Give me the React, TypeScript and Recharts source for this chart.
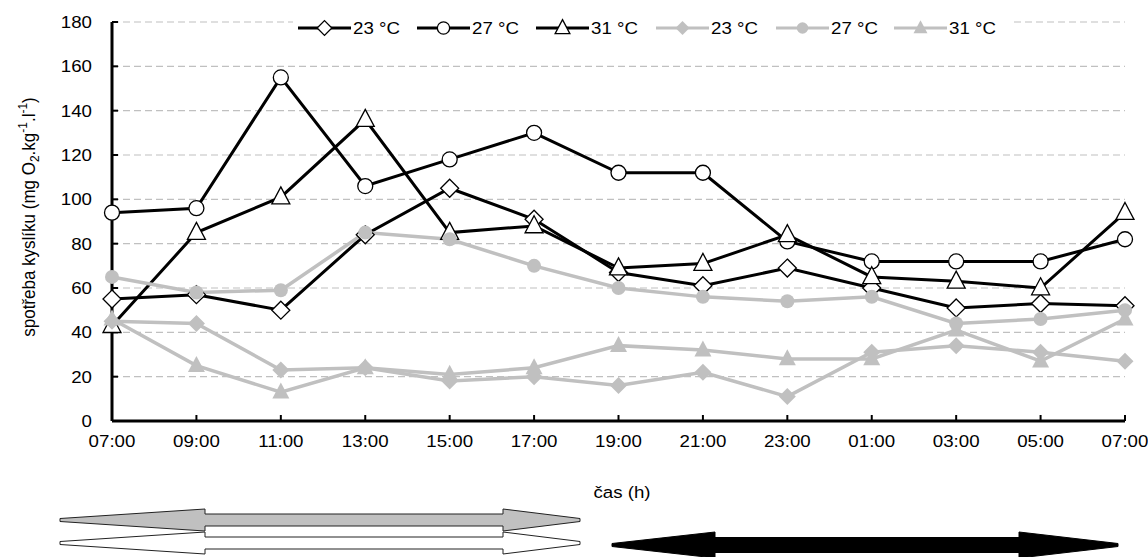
import React from 'react';
import { LineChart, Line, XAxis, YAxis, CartesianGrid, Legend } from 'recharts';

const times = ['07:00', '09:00', '11:00', '13:00', '15:00', '17:00', '19:00', '21:00', '23:00', '01:00', '03:00', '05:00', '07:00'];
const black23 = [55, 57, 50, 84, 105, 91, 67, 61, 69, 60, 51, 53, 52];
const black27 = [94, 96, 155, 106, 118, 130, 112, 112, 81, 72, 72, 72, 82];
const black31 = [43, 85, 101, 136, 85, 88, 69, 71, 84, 65, 63, 60, 94];
const grey23 = [45, 44, 23, 24, 18, 20, 16, 22, 11, 31, 34, 31, 27];
const grey27 = [65, 58, 59, 85, 82, 70, 60, 56, 54, 56, 44, 46, 50];
const grey31 = [46, 25, 13, 24, 21, 24, 34, 32, 28, 28, 41, 27, 46];
const yTicks = [0, 20, 40, 60, 80, 100, 120, 140, 160, 180];
const legendLabels = ['23 °C', '27 °C', '31 °C', '23 °C', '27 °C', '31 °C'];
const yTitle = 'spotřeba kyslíku (mg O';
const xTitle = 'čas (h)';

const FONT = '"Liberation Sans", Arial, sans-serif';
const SX = 1.1;
const GREY = '#C0C0C0';
const FS = 17;

type Shape = 'diamond' | 'circle' | 'triangle';
interface SeriesDef { key: string; values: number[]; label: string; shape: Shape; filled: boolean; }

const seriesDefs: SeriesDef[] = [
  { key: 'b23', values: black23, label: legendLabels[0], shape: 'diamond', filled: false },
  { key: 'b27', values: black27, label: legendLabels[1], shape: 'circle', filled: false },
  { key: 'b31', values: black31, label: legendLabels[2], shape: 'triangle', filled: false },
  { key: 'g23', values: grey23, label: legendLabels[3], shape: 'diamond', filled: true },
  { key: 'g27', values: grey27, label: legendLabels[4], shape: 'circle', filled: true },
  { key: 'g31', values: grey31, label: legendLabels[5], shape: 'triangle', filled: true },
];

const data = times.map((t, i) => {
  const row: Record<string, any> = { time: t };
  seriesDefs.forEach((s) => { row[s.key] = s.values[i]; });
  return row;
});

function markerEl(shape: Shape, filled: boolean, cx: number, cy: number, scale: number, key?: string) {
  const fill = filled ? GREY : '#fff';
  const stroke = filled ? 'none' : '#000';
  const sw = filled ? 0 : 1.3;
  if (shape === 'circle') {
    const r = (filled ? 7 : 7.5) * scale;
    return <circle key={key} cx={cx} cy={cy} r={r} fill={fill} stroke={stroke} strokeWidth={sw} />;
  }
  if (shape === 'diamond') {
    const s = (filled ? 8.5 : 9) * scale;
    return <polygon key={key} points={`${cx},${cy - s} ${cx + s},${cy} ${cx},${cy + s} ${cx - s},${cy}`} fill={fill} stroke={stroke} strokeWidth={sw} />;
  }
  const w = (filled ? 17 : 18) * scale;
  const h = (filled ? 16 : 17) * scale;
  return <polygon key={key} points={`${cx},${cy - h * 0.6} ${cx + w / 2},${cy + h * 0.4} ${cx - w / 2},${cy + h * 0.4}`} fill={fill} stroke={stroke} strokeWidth={sw} />;
}

function SText({ x, y, anchor = 'middle', children }: { x: number; y: number; anchor?: string; children: any }) {
  return (
    <text transform={`translate(${x},${y}) scale(${SX},1)`} textAnchor={anchor as any} fontSize={FS} fontFamily={FONT} fill="#000">
      {children}
    </text>
  );
}

const XTick = (props: any) => {
  const { x, y, payload } = props;
  return <SText x={x} y={y + 32}>{payload.value}</SText>;
};

const YTick = (props: any) => {
  const { x, y, payload } = props;
  return <SText x={x} y={y + 6} anchor="end">{payload.value}</SText>;
};

const XLabel = () => <SText x={622} y={498}>{xTitle}</SText>;

const YLabel = () => (
  <text transform={`translate(35,217) scale(${SX},1) rotate(-90)`} textAnchor="middle" fontSize={FS} fontFamily={FONT} fill="#000">
    {yTitle}
    <tspan dy={4} fontSize={12}>2</tspan>
    <tspan dy={-4}>.kg</tspan>
    <tspan dy={-7} fontSize={12}>-1</tspan>
    <tspan dy={7}>.l</tspan>
    <tspan dy={-7} fontSize={12}>-1</tspan>
    <tspan dy={7}>)</tspan>
  </text>
);

const legendStarts = [298, 417, 536, 656, 776, 894];

const LegendContent = () => (
  <svg width={1148} height={60} style={{ display: 'block' }}>
    <rect x={293} y={14} width={720} height={28} fill="#fff" />
    {seriesDefs.map((s, i) => {
      const x0 = legendStarts[i];
      const cy = 28;
      return (
        <g key={s.key}>
          <line x1={x0} x2={x0 + 53} y1={cy} y2={cy} stroke={s.filled ? GREY : '#000'} strokeWidth={3} />
          {markerEl(s.shape, s.filled, x0 + 26.5, cy, 0.82)}
          <SText x={x0 + 55} y={cy + 6} anchor="start">{s.label}</SText>
        </g>
      );
    })}
  </svg>
);

function arrowPoints(x1: number, x2: number, s1: number, s2: number, cy: number, head: number, shaft: number, tip: number) {
  return [
    [x1, cy - tip], [s1, cy - head], [s1, cy - shaft], [s2, cy - shaft], [s2, cy - head], [x2, cy - tip],
    [x2, cy + tip], [s2, cy + head], [s2, cy + shaft], [s1, cy + shaft], [s1, cy + head], [x1, cy + tip],
  ].map((p) => p.join(',')).join(' ');
}

export default function App() {
  return (
    <div style={{ position: 'absolute', left: 0, top: 0, width: 1148, height: 557, background: '#fff', overflow: 'hidden' }}>
      <LineChart width={1148} height={557} data={data} margin={{ top: 22, right: 23, left: 0, bottom: 96 }}>
        <CartesianGrid vertical={false} stroke={GREY} strokeDasharray="7 4" strokeWidth={1.2} />
        <XAxis
          dataKey="time"
          interval={0}
          height={40}
          tickSize={-6}
          tickMargin={0}
          tick={<XTick />}
          axisLine={{ stroke: '#000', strokeWidth: 3 }}
          tickLine={{ stroke: '#000', strokeWidth: 2 }}
          label={<XLabel />}
        />
        <YAxis
          width={112}
          domain={[0, 180]}
          ticks={yTicks}
          interval={0}
          tickSize={-6}
          tickMargin={26}
          tick={<YTick />}
          axisLine={{ stroke: '#000', strokeWidth: 3 }}
          tickLine={{ stroke: '#000', strokeWidth: 2 }}
          label={<YLabel />}
        />
        <Legend
          layout="horizontal"
          align="center"
          verticalAlign="middle"
          wrapperStyle={{ left: 0, top: 0, width: 1148, height: 60 }}
          content={<LegendContent />}
        />
        {seriesDefs.map((s) => (
          <Line
            key={s.key}
            dataKey={s.key}
            type="linear"
            stroke={s.filled ? GREY : '#000'}
            strokeWidth={s.filled ? 3.5 : 3}
            isAnimationActive={false}
            activeDot={false}
            dot={(p: any) => markerEl(s.shape, s.filled, p.cx, p.cy, 1, `${s.key}-${p.index}`)}
          />
        ))}
      </LineChart>
      <svg width={1148} height={557} style={{ position: 'absolute', left: 0, top: 0, pointerEvents: 'none' }}>
        <polygon points={arrowPoints(60, 580, 205, 503, 520, 11, 6, 1.5)} fill={GREY} stroke="#222" strokeWidth={1} />
        <polygon points={arrowPoints(60, 580, 205, 503, 543, 11, 6, 1.5)} fill="#fff" stroke="#222" strokeWidth={1} />
        <polygon points={arrowPoints(612, 1118, 715, 1019, 545, 13, 7.5, 1.5)} fill="#000" stroke="#000" strokeWidth={1} />
      </svg>
    </div>
  );
}
